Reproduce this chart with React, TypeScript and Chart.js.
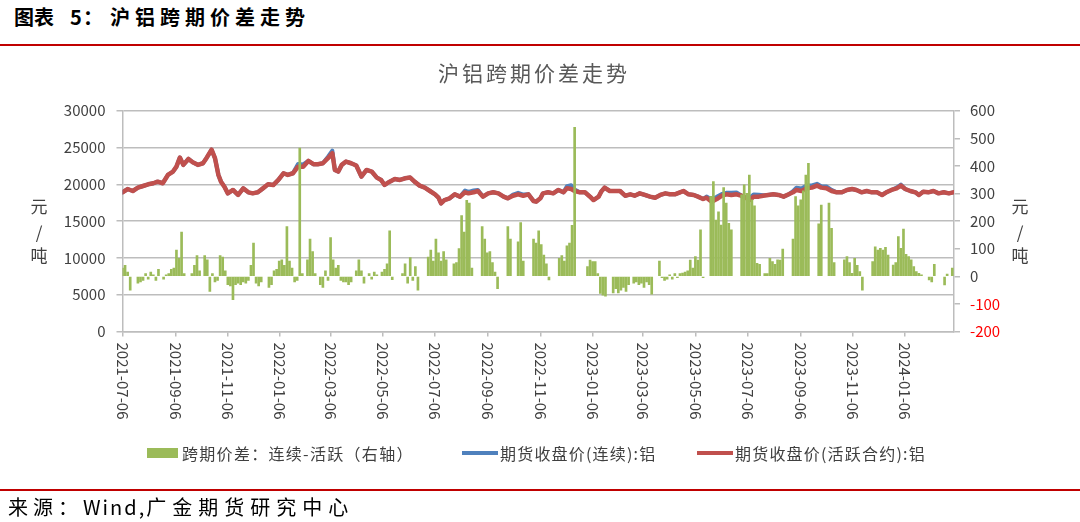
import React, { useEffect, useRef } from 'react';
import { Chart, registerables } from 'chart.js';

Chart.register(...registerables);

// ---------- data ----------
const START_DATE = '2021-07-06';
const END_DATE = '2024-03-03';

const TICK_LABELS = [
  '2021-07-06', '2021-09-06', '2021-11-06', '2022-01-06', '2022-03-06', '2022-05-06',
  '2022-07-06', '2022-09-06', '2022-11-06', '2023-01-06', '2023-03-06', '2023-05-06',
  '2023-07-06', '2023-09-06', '2023-11-06', '2024-01-06',
];

const SERIES_NAMES = ['跨期价差：连续-活跃（右轴）', '期货收盘价(连续):铝', '期货收盘价(活跃合约):铝'];

// days since START_DATE for the price samples
const PRICE_DAYS = [
  0, 6, 12, 18, 24, 30, 36, 41, 47, 53, 59, 63, 67, 71, 77, 82, 88, 94, 98, 104,
  108, 112, 115, 119, 123, 129, 135, 141, 147, 152, 158, 164, 170, 176, 182, 188, 193, 199, 205, 211,
  217, 223, 228, 234, 240, 245, 248, 252, 256, 261, 267, 273, 279, 285, 291, 297, 302, 306, 312, 318,
  324, 330, 336, 341, 347, 353, 359, 365, 369, 372, 376, 382, 388, 394, 400, 404, 410, 415, 421, 427,
  433, 439, 445, 450, 456, 462, 468, 474, 480, 483, 488, 491, 497, 503, 509, 515, 519, 524, 528, 534,
  540, 546, 550, 556, 559, 563, 569, 575, 581, 587, 593, 598, 604, 610, 616, 622, 628, 634, 639, 645,
  651, 655, 661, 667, 672, 678, 682, 688, 694, 700, 705, 711, 717, 723, 729, 733, 737, 743, 748, 754,
  760, 766, 772, 778, 783, 787, 793, 799, 805, 811, 816, 822, 828, 834, 840, 846, 852, 857, 863, 869,
  875, 881, 887, 892, 898, 904, 909, 914, 920, 926, 930, 935, 941, 947, 953, 959, 965, 970,
];

const ACTIVE_PRICE = [
  18900, 19360, 19090, 19550, 19770, 20000, 20140, 20360, 20140, 21270, 21730, 22400, 23640, 22640, 23450, 23000, 22640, 22860, 23550, 24700,
  23550, 21270, 20360, 19680, 18770, 19230, 18550, 19450, 18910, 18770, 18910, 19450, 20000, 19900, 20590, 21500, 21270, 21500, 22400, 22400,
  23180, 22730, 22730, 22860, 23550, 24230, 21950, 21730, 22640, 23090, 22860, 22550, 21050, 21950, 21730, 20910, 20590, 19910, 20360, 20730,
  20590, 20820, 20910, 20360, 19820, 19550, 19090, 18640, 18180, 17410, 17860, 18090, 18640, 18320, 18910, 18770, 18910, 19090, 18320, 18770,
  18910, 18770, 18320, 18090, 18450, 18640, 18450, 18640, 17730, 17640, 18100, 18770, 18910, 18770, 19230, 18910, 19450, 19360, 19090, 18910,
  18910, 18320, 17860, 18320, 19000, 19550, 19090, 19090, 19090, 18450, 18640, 18450, 18770, 18550, 18320, 18180, 18550, 18770, 18640, 18640,
  18910, 19090, 18640, 18550, 18320, 18000, 18180, 17640, 18000, 18450, 18640, 18550, 18640, 18450, 18090, 17900, 18320, 18320, 18450, 18550,
  18640, 18550, 18320, 18640, 18910, 19230, 19090, 19450, 19550, 19820, 19550, 19450, 19090, 18910, 18910, 19230, 19360, 19230, 18910, 19090,
  18910, 18910, 18550, 18910, 19230, 19450, 19820, 19360, 19090, 18910, 18550, 19000, 18910, 19090, 18770, 18910, 18770, 18910,
];

const CONT_PRICE = [
  18900, 19360, 19090, 19550, 19770, 20000, 20140, 20360, 20140, 21270, 21730, 22400, 23640, 22640, 23450, 23000, 22640, 22860, 23550, 24700,
  23550, 21270, 20360, 19680, 18770, 19230, 18550, 19450, 18910, 18770, 18910, 19450, 20000, 19900, 20590, 21500, 21270, 21500, 22750, 22700,
  23180, 22730, 22730, 22860, 23750, 24580, 21950, 21730, 22640, 23090, 22860, 22550, 21050, 21950, 21730, 20910, 20590, 19910, 20360, 20730,
  20590, 20820, 20910, 20360, 19820, 19550, 19090, 18640, 18180, 17410, 17860, 18090, 18640, 18320, 19160, 18970, 19160, 19240, 18320, 18770,
  18910, 18770, 18320, 18090, 18600, 18840, 18600, 18640, 17730, 17640, 18100, 18770, 18910, 18770, 19230, 18910, 19750, 19860, 19290, 18910,
  18910, 18320, 17860, 18320, 19000, 19550, 19090, 19090, 19090, 18450, 18640, 18450, 18770, 18550, 18320, 18180, 18550, 18770, 18640, 18640,
  18910, 19090, 18640, 18550, 18320, 18000, 18330, 17940, 18300, 18700, 18840, 18850, 18890, 18450, 18090, 18200, 18620, 18570, 18500, 18550,
  18640, 18550, 18320, 18640, 19060, 19530, 19440, 19850, 19850, 20070, 19750, 19700, 19240, 18910, 18910, 19230, 19360, 19230, 18910, 19090,
  18910, 18910, 18550, 18910, 19230, 19550, 19970, 19360, 19090, 18910, 18550, 19000, 18910, 19090, 18770, 18910, 18770, 18910,
];

// spread (continuous - active), one value every SPREAD_STEP_DAYS days from START_DATE, null = no bar
const SPREAD_STEP_DAYS = 3;
const SPREAD = [
  30, 40, 15, -50, null, null, -25, -20, -15, 10, -10, 15, 5, -15, 25, null, -10, 5, 10, 25,
  30, 95, 65, 160, 10, null, null, 10, 40, 75, 20, null, 75, 60, -55, 10, -20, -15, 75, 70,
  20, -30, -35, -85, -30, -25, -30, -20, -25, -15, 40, 120, -25, -35, -20, null, null, -40, -30, 20,
  25, 55, 60, 40, 180, 55, 30, -20, -15, 465, 10, null, 60, 135, 90, 10, null, -30, -40, 20,
  -15, 140, 60, 30, 40, -15, -20, -20, -30, -20, null, 20, 60, 20, -25, null, 10, -10, 15, 5,
  null, 15, 25, 45, 165, -12, null, null, null, 10, 45, -25, 68, -15, 35, -50, null, null, null, 70,
  95, 55, 135, 85, 55, 90, 60, null, null, 45, 50, 100, 220, 160, 275, 265, 30, null, null, null,
  180, 135, 85, 90, 50, 15, -45, null, null, null, 180, 135, null, null, 125, 195, 55, null, null, null,
  135, 120, 165, 115, 77, 45, -13, null, null, null, 65, 75, 55, 110, 120, 185, 540, null, null, null,
  null, 35, 59, 53, 53, 10, -62, -68, -72, null, null, -60, -45, -60, -50, -40, -55, -30, null, -25,
  -20, -30, -25, -40, -20, -30, -65, null, null, 55, -5, -15, -10, 5, -10, 10, -5, 10, 12, 15,
  20, 59, 30, 71, 59, 168, -5, null, null, 290, 343, 204, 234, 186, 321, 265, 192, 168, null, null,
  null, 295, 331, 301, 367, 277, 255, 47, 43, null, 10, 10, 65, 53, 43, 60, 59, 99, null, null,
  null, 135, 289, 255, 277, 310, 367, 409, null, null, null, 190, 258, null, null, 265, 174, 50, null, null,
  null, 60, 71, 50, 11, 65, 40, 17, -50, null, null, null, 53, 107, 95, 101, 95, 105, 77, null,
  41, 50, 144, 101, 171, 80, 71, 60, 35, 17, 11, 5, null, null, -13, -20, 43, null, null, null,
  -31, 8, null, 30,
];

// ---------- helpers ----------
const DAY_MS = 86400000;
const dayOf = (d: string) =>
  Math.round((Date.parse(d + 'T00:00:00Z') - Date.parse(START_DATE + 'T00:00:00Z')) / DAY_MS);

const FONT = '"Noto Sans CJK SC", "Noto Sans", sans-serif';
const TEXT = '#404040';
const GRID = '#bdbdbd';
const GREEN = '#9bbb59';
const BLUE = '#4f81bd';
const RED = '#c0504d';

const PLOT_LEFT = 122.5;
const PLOT_RIGHT = 954;
const PLOT_TOP = 110.7;
const PLOT_BOTTOM = 331.5;
const W = 1080;
const H = 522;
const X_AXIS_H = 10;

const xLabelPlugin = {
  id: 'rotatedXLabels',
  afterDraw(chart: any) {
    const scale = chart.scales.x;
    const ctx = chart.ctx;
    ctx.save();
    ctx.font = `15px ${FONT}`;
    ctx.fillStyle = TEXT;
    ctx.textAlign = 'left';
    ctx.textBaseline = 'middle';
    TICK_LABELS.forEach((lbl) => {
      const px = scale.getPixelForValue(dayOf(lbl));
      ctx.save();
      ctx.translate(px, chart.chartArea.bottom + 11);
      ctx.rotate(Math.PI / 2);
      ctx.fillText(lbl, 0, 0);
      ctx.restore();
    });
    ctx.restore();
  },
};

export default function App() {
  const canvasRef = useRef<HTMLCanvasElement | null>(null);

  useEffect(() => {
    const canvas = canvasRef.current;
    if (!canvas) return;

    const spreadData = SPREAD.map((v, j) => ({ x: j * SPREAD_STEP_DAYS, y: v }));
    const activeData = PRICE_DAYS.map((d, i) => ({ x: d, y: ACTIVE_PRICE[i] }));
    const contData = PRICE_DAYS.map((d, i) => ({ x: d, y: CONT_PRICE[i] }));
    const tickDays = TICK_LABELS.map(dayOf);

    const chart = new Chart(canvas, {
      type: 'bar',
      data: {
        datasets: [
          {
            type: 'bar',
            label: SERIES_NAMES[0],
            data: spreadData as any,
            yAxisID: 'y1',
            xAxisID: 'x',
            backgroundColor: GREEN,
            borderWidth: 0,
            barThickness: 2,
            grouped: false,
            order: 0,
          } as any,
          {
            type: 'line',
            label: SERIES_NAMES[1],
            data: contData as any,
            yAxisID: 'y',
            xAxisID: 'x',
            borderColor: BLUE,
            borderWidth: 4,
            pointRadius: 0,
            tension: 0,
            borderJoinStyle: 'round',
            borderCapStyle: 'round',
            order: 2,
          } as any,
          {
            type: 'line',
            label: SERIES_NAMES[2],
            data: activeData as any,
            yAxisID: 'y',
            xAxisID: 'x',
            borderColor: RED,
            borderWidth: 4.5,
            pointRadius: 0,
            tension: 0,
            borderJoinStyle: 'round',
            borderCapStyle: 'round',
            order: 1,
          } as any,
        ],
      },
      options: {
        responsive: false,
        animation: false,
        devicePixelRatio: 1,
        layout: {
          padding: {
            left: 0,
            right: 0,
            top: PLOT_TOP,
            bottom: H - PLOT_BOTTOM - X_AXIS_H,
          },
        },
        plugins: {
          legend: { display: false },
          title: { display: false },
          tooltip: { enabled: false },
        },
        scales: {
          x: {
            type: 'linear',
            position: 'bottom',
            min: 0,
            max: dayOf(END_DATE),
            offset: false,
            afterBuildTicks: (scale: any) => {
              scale.ticks = tickDays.map((v) => ({ value: v }));
            },
            afterFit: (scale: any) => {
              scale.height = X_AXIS_H;
            },
            ticks: { display: false },
            grid: {
              display: true,
              drawOnChartArea: false,
              drawTicks: true,
              tickLength: 5,
              color: GRID,
              lineWidth: 1.5,
              offset: false,
            },
            border: { display: true, color: GRID, width: 1.5 },
          },
          y: {
            type: 'linear',
            position: 'left',
            min: 0,
            max: 30000,
            afterFit: (scale: any) => {
              scale.width = PLOT_LEFT;
            },
            ticks: {
              stepSize: 5000,
              padding: 11,
              color: TEXT,
              font: { family: FONT, size: 15 },
              callback: (v: any) => String(v),
            },
            grid: {
              color: GRID,
              lineWidth: 1.5,
              drawTicks: true,
              tickLength: 6,
            },
            border: { display: true, color: GRID, width: 1.5 },
          },
          y1: {
            type: 'linear',
            position: 'right',
            min: -200,
            max: 600,
            afterFit: (scale: any) => {
              scale.width = W - PLOT_RIGHT;
            },
            ticks: {
              stepSize: 100,
              padding: 10,
              color: (ctx: any) => (ctx.tick && ctx.tick.value < 0 ? '#ff0000' : TEXT),
              font: { family: FONT, size: 15 },
              callback: (v: any) => String(v),
            },
            grid: {
              drawOnChartArea: false,
              drawTicks: true,
              tickLength: 6,
              color: GRID,
              lineWidth: 1.5,
            },
            border: { display: true, color: GRID, width: 1.5 },
          },
        },
      } as any,
      plugins: [xLabelPlugin],
    });

    return () => {
      chart.destroy();
    };
  }, []);

  const unitStack = (cx: number) => (
    <>
      <div style={{ position: 'absolute', left: cx - 10, top: 196, width: 20, textAlign: 'center', fontSize: 17, lineHeight: '20px', color: TEXT }}>元</div>
      <div style={{ position: 'absolute', left: cx - 10, top: 222, width: 20, textAlign: 'center', fontSize: 17, lineHeight: '20px', color: TEXT }}>/</div>
      <div style={{ position: 'absolute', left: cx - 10, top: 245, width: 20, textAlign: 'center', fontSize: 17, lineHeight: '20px', color: TEXT }}>吨</div>
    </>
  );

  return (
    <div
      style={{
        position: 'fixed',
        left: 0,
        top: 0,
        width: W,
        height: H,
        background: '#ffffff',
        fontFamily: FONT,
        overflow: 'hidden',
      }}
    >
      {/* header */}
      <div style={{ position: 'absolute', left: 14, top: 7, fontSize: 20, lineHeight: '20px', fontWeight: 700, color: '#000', whiteSpace: 'nowrap' }}>图表</div>
      <div style={{ position: 'absolute', left: 70, top: 7, fontSize: 20, lineHeight: '20px', fontWeight: 700, color: '#000' }}>5</div>
      <div style={{ position: 'absolute', left: 83, top: 7, fontSize: 20, lineHeight: '20px', fontWeight: 700, color: '#000' }}>：</div>
      <div style={{ position: 'absolute', left: 110, top: 7, fontSize: 20, lineHeight: '20px', fontWeight: 700, color: '#000', letterSpacing: 5, whiteSpace: 'nowrap' }}>沪铝跨期价差走势</div>
      <div style={{ position: 'absolute', left: 0, top: 44, width: W, height: 2, background: '#c00000' }} />

      <canvas ref={canvasRef} width={W} height={H} style={{ position: 'absolute', left: 0, top: 0, width: W, height: H }} />

      {/* chart title */}
      <div style={{ position: 'absolute', left: 384, top: 60, width: 300, textAlign: 'center', fontSize: 21, lineHeight: '24px', color: '#595959', letterSpacing: 3, whiteSpace: 'nowrap' }}>沪铝跨期价差走势</div>

      {/* axis units */}
      {unitStack(39)}
      {unitStack(1020)}

      {/* legend */}
      <div style={{ position: 'absolute', left: 147, top: 448, width: 31, height: 10, background: GREEN }} />
      <div style={{ position: 'absolute', left: 182, top: 443, fontSize: 16, lineHeight: '20px', color: TEXT, letterSpacing: 1.3, whiteSpace: 'nowrap' }}>{SERIES_NAMES[0]}</div>
      <div style={{ position: 'absolute', left: 462, top: 451, width: 36, height: 4, background: BLUE }} />
      <div style={{ position: 'absolute', left: 500, top: 443, fontSize: 16, lineHeight: '20px', color: TEXT, letterSpacing: 1.2, whiteSpace: 'nowrap' }}>{SERIES_NAMES[1]}</div>
      <div style={{ position: 'absolute', left: 697, top: 451, width: 36, height: 4, background: RED }} />
      <div style={{ position: 'absolute', left: 735, top: 443, fontSize: 16, lineHeight: '20px', color: TEXT, letterSpacing: 1.2, whiteSpace: 'nowrap' }}>{SERIES_NAMES[2]}</div>

      {/* footer */}
      <div style={{ position: 'absolute', left: 0, top: 489, width: W, height: 2, background: '#c00000' }} />
      <div style={{ position: 'absolute', left: 8, top: 497, fontSize: 20, lineHeight: '20px', color: '#000', whiteSpace: 'nowrap' }}>
        <span style={{ letterSpacing: 5 }}>来源：</span>
        <span style={{ letterSpacing: 2 }}>Wind,</span>
        <span style={{ letterSpacing: 6 }}>广金期货研究中心</span>
      </div>
    </div>
  );
}
